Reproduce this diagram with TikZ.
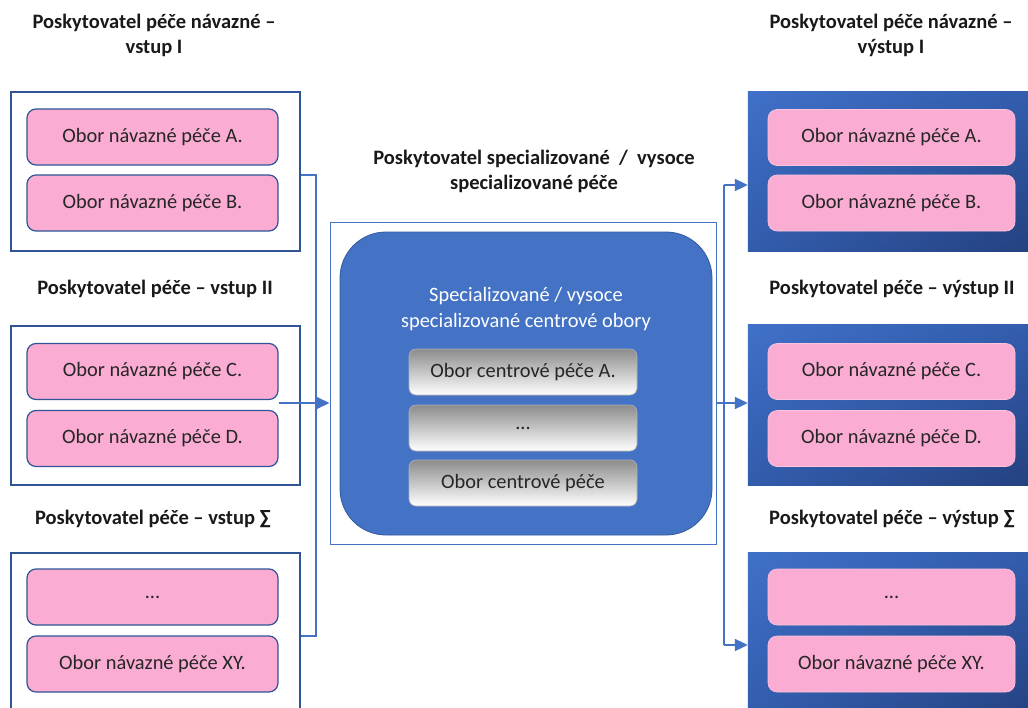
\documentclass[tikz,border=0pt]{standalone}
\usepackage{fontspec}
\setmainfont{Carlito}
\usetikzlibrary{arrows.meta,shadings}
\definecolor{frameblue}{RGB}{47,85,151}
\definecolor{mainblue}{RGB}{68,114,196}
\definecolor{lightblue}{RGB}{64,112,200}
\definecolor{midblue}{RGB}{50,92,172}
\definecolor{deepblue}{RGB}{36,64,126}
\definecolor{pinkfill}{RGB}{250,172,210}
\tikzset{
  txt/.style={font=\fontsize{20.4}{24}\selectfont, text=black!85},
  title/.style={font=\bfseries\fontsize{20.5}{25}\selectfont, align=center, text=black!90},
  inframe/.style={draw=frameblue, line width=2pt, fill=white, minimum width=289pt, minimum height=159pt, inner sep=0pt},
  outframe/.style={minimum width=292pt, minimum height=160pt, inner sep=0pt},
  pinkin/.style={draw=frameblue, line width=1.2pt, fill=pinkfill, rounded corners=9pt, minimum width=251pt, minimum height=56pt, inner sep=0pt, txt},
  pinkout/.style={fill=pinkfill, draw=pinkfill!70!white, line width=0.6pt, rounded corners=9pt, minimum width=247pt, minimum height=56pt, inner sep=0pt, txt},
  greybox/.style={top color=black!45, bottom color=white, draw=black!30, line width=0.6pt, rounded corners=7pt, minimum width=228pt, minimum height=46pt, inner sep=0pt, txt},
  link/.style={draw=mainblue, line width=2pt},
  arr/.style={link, -{Triangle[length=13pt,width=12pt]}},
}
% blue panel with a diagonal fade towards the lower right corner
\newcommand{\bluepanel}[1]{%
  \shade[upper left=lightblue, upper right=midblue, lower left=midblue, lower right=deepblue]
    (#1.north west) rectangle (#1.south east);}
\begin{document}
\begin{tikzpicture}[x=1pt,y=-1pt]
\useasboundingbox (0,0) rectangle (1028,707);
\clip (0,0) rectangle (1028,707);
\fill[white] (0,0) rectangle (1028,707);

% input side titles
\node[title] (tin1) at (154,35) {Poskytovatel péče návazné –\\vstup I};
\node[title] (tin2) at (155,289) {Poskytovatel péče – vstup II};
\node[title] (tin3) at (153,519) {Poskytovatel péče – vstup ∑};

% input frames
\node[inframe] (in1) at (155.5,171.5) {};
\node[inframe] (in2) at (155.5,405) {};
\node[inframe, minimum height=170pt] (in3) at (155.5,638) {};

% input fields
\node[pinkin] (pA) at (152.5,137) {Obor návazné péče A.};
\node[pinkin] (pB) at (152.5,203) {Obor návazné péče B.};
\node[pinkin] (pC) at (152.5,371.5) {Obor návazné péče C.};
\node[pinkin] (pD) at (152.5,438.5) {Obor návazné péče D.};
\node[pinkin] (pE) at (152.5,597) {...};
\node[pinkin] (pXY) at (152.5,664) {Obor návazné péče XY.};

% central provider
\node[title] (tcen) at (534,171.5) {Poskytovatel specializované \ /\ \ vysoce\\specializované péče};
\node[draw=mainblue, line width=1pt, minimum width=386pt, minimum height=322pt, inner sep=0pt] (cframe) at (523,383) {};
\node[fill=mainblue, draw=frameblue!80!mainblue, line width=0.8pt, rounded corners=46pt, minimum width=372pt, minimum height=303pt, inner sep=0pt] (cbox) at (526,383.5) {};
\node[txt, text=white, align=center, font=\fontsize{20.4}{26}\selectfont] (ctext) at (526,309) {Specializované / vysoce\\specializované centrové obory};
\node[greybox] (g1) at (523,372) {Obor centrové péče A.};
\node[greybox] (g2) at (523,428) {...};
\node[greybox] (g3) at (523,483) {Obor centrové péče};

% output side titles
\node[title] (tout1) at (891,35) {Poskytovatel péče návazné –\\výstup I};
\node[title] (tout2) at (892,289) {Poskytovatel péče – výstup II};
\node[title] (tout3) at (892,519) {Poskytovatel péče – výstup ∑};

% output frames
\node[outframe] (out1) at (894,171.5) {};
\node[outframe] (out2) at (894,405) {};
\node[outframe, minimum height=170pt] (out3) at (894,638) {};
\bluepanel{out1}
\bluepanel{out2}
\bluepanel{out3}

% output fields
\node[pinkout] (qA) at (891.5,137.5) {Obor návazné péče A.};
\node[pinkout] (qB) at (891.5,203) {Obor návazné péče B.};
\node[pinkout] (qC) at (891.5,371.5) {Obor návazné péče C.};
\node[pinkout] (qD) at (891.5,438.5) {Obor návazné péče D.};
\node[pinkout] (qE) at (891.5,597) {...};
\node[pinkout] (qXY) at (891.5,664) {Obor návazné péče XY.};

% bus coordinates
\coordinate (lTop) at (316,175);
\coordinate (lBot) at (316,636);
\coordinate (mid) at (316,403);
\coordinate (rTop) at (724,185);
\coordinate (rMid) at (724,403);
\coordinate (rBot) at (724,645);

% incoming bus
\draw[link] (in1.east |- lTop) -- (lTop) -- (lBot) -- (in3.east |- lBot);
\draw[arr] (pC.east |- mid) -- (cframe.west |- mid);

% outgoing bus
\draw[link] (cframe.east |- rMid) -- (rMid);
\draw[link] (rTop) -- (rBot);
\draw[arr] (rTop) -- (out1.west |- rTop);
\draw[arr] (rMid) -- (out2.west |- rMid);
\draw[arr] (rBot) -- (out3.west |- rBot);
\end{tikzpicture}
\end{document}
